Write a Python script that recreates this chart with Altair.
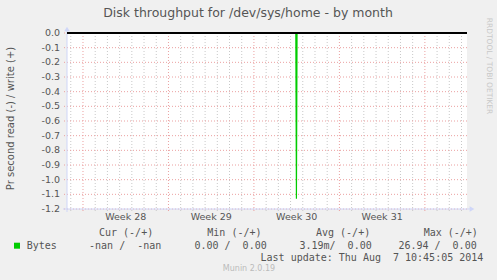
import altair as alt
import pandas as pd

# ---- data ----
# x = days since Mon 7 Jul 2014 00:00 ; y = bytes per second (read negative)
time_days = [-1.31, 17.43, 17.48, 17.53, 31.45]
bytes_values = [0.0, 0.0, -1.13, 0.0, 0.0]

y_ticks = [0.0, -0.1, -0.2, -0.3, -0.4, -0.5, -0.6, -0.7, -0.8, -0.9, -1.0, -1.1, -1.2]
y_tick_labels = ["0.0", "-0.1", "-0.2", "-0.3", "-0.4", "-0.5", "-0.6", "-0.7",
                 "-0.8", "-0.9", "-1.0", "-1.1", "-1.2"]

week_starts = [0, 7, 14, 21, 28]
day_lines = [d for d in range(-1, 32) if d not in week_starts]
week_mid = [3.5, 10.5, 17.5, 24.5]
week_labels = ["Week 28", "Week 29", "Week 30", "Week 31"]

title_text = "Disk throughput for /dev/sys/home - by month"
y_title = "Pr second read (-) / write (+)"
side_text = "RRDTOOL / TOBI OETIKER"
legend_headers = ["Cur (-/+)", "Min (-/+)", "Avg (-/+)", "Max (-/+)"]
legend_name = "Bytes"
legend_values = ["-nan /  -nan", "0.00 /  0.00", "3.19m/  0.00", "26.94 /  0.00"]
last_update = "Last update: Thu Aug  7 10:45:05 2014"
footer = "Munin 2.0.19"

# ---- chart ----
W, H = 400, 176
xs = alt.Scale(domain=[-1.31, 31.45], nice=False, zero=False)
ys = alt.Scale(domain=[-1.2, 0.0], nice=False, zero=False)

AXIS_C = "#CFD6F8"
FONT_C = "#555555"
MINOR_C = "#C8C8C8"
MAJOR_C = "#EBA0A0"

series = pd.DataFrame({"t": time_days, "v": bytes_values})
yt = pd.DataFrame({"v": y_ticks, "lab": y_tick_labels})
wk = pd.DataFrame({"t": week_mid, "lab": week_labels})

minor = alt.Chart(pd.DataFrame({"t": day_lines})).mark_rule(
    color=MINOR_C, strokeDash=[1, 2], strokeWidth=1
).encode(x=alt.X("t:Q", scale=xs, axis=None), y=alt.value(0), y2=alt.value(H + 3))

major = alt.Chart(pd.DataFrame({"t": week_starts})).mark_rule(
    color=MAJOR_C, strokeDash=[1, 2], strokeWidth=1
).encode(x=alt.X("t:Q", scale=xs, axis=None), y=alt.value(0), y2=alt.value(H + 3))

hgrid = alt.Chart(yt).mark_rule(
    color=MAJOR_C, strokeDash=[1, 2], strokeWidth=1
).encode(y=alt.Y("v:Q", scale=ys, axis=None), x=alt.value(-3), x2=alt.value(W))

ylabels = alt.Chart(yt).mark_text(
    align="right", baseline="middle", font="DejaVu Sans", fontSize=9.5, color=FONT_C
).encode(y=alt.Y("v:Q", scale=ys, axis=None), x=alt.value(-7), text="lab:N")

xlabels = alt.Chart(wk).mark_text(
    align="center", baseline="middle", font="DejaVu Sans", fontSize=9.5, color=FONT_C
).encode(x=alt.X("t:Q", scale=xs, axis=None), y=alt.value(H + 8), text="lab:N")

one = alt.Data(values=[{}])

xaxis = alt.Chart(one).mark_rule(color=AXIS_C, strokeWidth=1).encode(
    x=alt.value(-4), x2=alt.value(W + 4), y=alt.value(H))
yaxis = alt.Chart(one).mark_rule(color=AXIS_C, strokeWidth=1).encode(
    y=alt.value(H + 3), y2=alt.value(-3), x=alt.value(0))
xarrow = alt.Chart(one).mark_point(shape="triangle-right", filled=True, color=AXIS_C,
                                   opacity=1, size=30).encode(
    x=alt.value(W + 5), y=alt.value(H))
yarrow = alt.Chart(one).mark_point(shape="triangle-up", filled=True, color=AXIS_C,
                                   opacity=1, size=30).encode(
    x=alt.value(0), y=alt.value(-4))

line = alt.Chart(series).mark_line(color="#00CC00", strokeWidth=1.2).encode(
    x=alt.X("t:Q", scale=xs, axis=None), y=alt.Y("v:Q", scale=ys, axis=None))

zero = alt.Chart(one).mark_rule(color="#000000", strokeWidth=1.8).encode(
    x=alt.value(0), x2=alt.value(W), y=alt.value(0))

NB = "\u00a0"


def txt(text, x, y, size=10, font="DejaVu Sans Mono", color=FONT_C, align="left", angle=0):
    return alt.Chart(one).mark_text(
        text=text.replace(" ", NB), fontSize=size, font=font, color=color, align=align,
        baseline="middle", angle=angle
    ).encode(x=alt.value(x), y=alt.value(y))


ox, oy = 67, 33  # plot origin in page pixels
texts = [
    txt(title_text, 248 - ox, 13 - oy, size=12.5, font="DejaVu Sans", align="center"),
    txt(y_title, 11 - ox, 118.5 - oy, size=10, font="DejaVu Sans", align="center", angle=270),
    txt(side_text, 489 - ox, 66 - oy, size=7.5, font="DejaVu Sans", color="#C8C8C8",
        align="center", angle=90),
    txt(legend_headers[0], 99 - ox, 233 - oy),
    txt(legend_headers[1], 207.3 - ox, 233 - oy),
    txt(legend_headers[2], 316 - ox, 233 - oy),
    txt(legend_headers[3], 423.7 - ox, 233 - oy),
    txt(legend_name, 26.7 - ox, 245.7 - oy),
    txt(legend_values[0], 161.3 - ox, 245.7 - oy, align="right"),
    txt(legend_values[1], 266.7 - ox, 245.7 - oy, align="right"),
    txt(legend_values[2], 371.7 - ox, 245.7 - oy, align="right"),
    txt(legend_values[3], 476.7 - ox, 245.7 - oy, align="right"),
    txt(last_update, 483.3 - ox, 257.7 - oy, align="right"),
    txt(footer, 249 - ox, 269 - oy, size=8, font="DejaVu Sans", color="#BBBBBB", align="center"),
]

swatch = alt.Chart(one).mark_square(color="#00CC00", size=36, opacity=1).encode(
    x=alt.value(17 - ox), y=alt.value(245.7 - oy))

chart = alt.layer(
    minor, major, hgrid, xaxis, yaxis, line, zero, xarrow, yarrow,
    ylabels, xlabels, swatch, *texts
).properties(
    width=W, height=H,
    padding={"left": ox, "top": oy, "right": 497 - ox - W, "bottom": 280 - oy - H},
    autosize=alt.AutoSizeParams(type="none"),
    background="#F0F0F0",
).configure_view(fill="white", strokeWidth=0)

chart.save("out.html", embed_options={"renderer": "svg", "actions": False})
